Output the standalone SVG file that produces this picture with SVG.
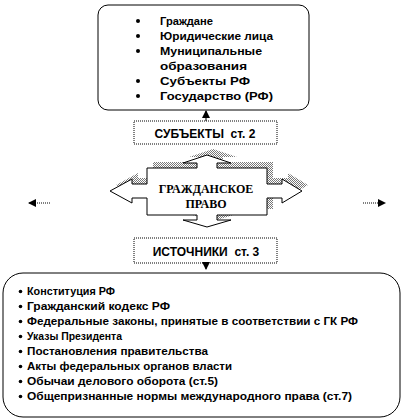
<svg xmlns="http://www.w3.org/2000/svg" width="402" height="420" viewBox="0 0 402 420">
<style>
.box{fill:#fff;stroke:#000;stroke-width:1}
.dbox{fill:#fff;stroke:#000;stroke-width:1;stroke-dasharray:1 1}
.t{font-family:"Liberation Sans",Arial,sans-serif;font-weight:bold;font-size:10.5px;fill:#000}
.tb{font-family:"Liberation Sans",Arial,sans-serif;font-weight:bold;font-size:10.5px;fill:#000}
.lbl{font-family:"Liberation Sans",Arial,sans-serif;font-weight:bold;font-size:12px;fill:#000}
.ser{font-family:"Liberation Serif","Times New Roman",serif;font-weight:bold;font-size:12px;fill:#000}
.ln{stroke:#000;stroke-width:1;fill:none}
.dl{stroke:#000;stroke-width:1;fill:none;stroke-dasharray:1 1}
</style>
<defs>
<pattern id="chk" width="2" height="2" patternUnits="userSpaceOnUse">
<rect width="2" height="2" fill="#fff"/>
<rect width="1" height="1" fill="#777"/>
<rect x="1" y="1" width="1" height="1" fill="#777"/>
</pattern>
<marker id="ah" markerWidth="8" markerHeight="8" refX="7" refY="4" orient="auto" markerUnits="userSpaceOnUse">
<path d="M0,0 L8,4 L0,8 z" fill="#000"/>
</marker>
</defs>

<g id="subjects-list">
<rect class="box" x="98" y="5" width="211" height="105" rx="10" ry="10"/>
<g fill="#000">
<circle cx="138" cy="21" r="2"/>
<circle cx="138" cy="36" r="2"/>
<circle cx="138" cy="51" r="2"/>
<circle cx="138" cy="81" r="2"/>
<circle cx="138" cy="96" r="2"/>
</g>
<text class="t" x="160" y="25" textLength="53" lengthAdjust="spacingAndGlyphs">Граждане</text>
<text class="t" x="160" y="40" textLength="113" lengthAdjust="spacingAndGlyphs">Юридические лица</text>
<text class="t" x="160" y="55" textLength="102" lengthAdjust="spacingAndGlyphs">Муниципальные</text>
<text class="t" x="160" y="70" textLength="87" lengthAdjust="spacingAndGlyphs">образования</text>
<text class="t" x="160" y="85" textLength="90" lengthAdjust="spacingAndGlyphs">Субъекты РФ</text>
<text class="t" x="160" y="100" textLength="113" lengthAdjust="spacingAndGlyphs">Государство (РФ)</text>
</g>

<g id="subjects-label">
<rect class="dbox" x="134" y="121" width="143" height="23"/>
<text class="lbl" x="205" y="138" text-anchor="middle" xml:space="preserve">СУБЪЕКТЫ  ст. 2</text>
</g>

<g id="civil-law">
<polygon fill="url(#chk)" transform="translate(6,-6)" points="207,155 231,163 217,163 217,168 267,168 267,184 282,184 282,179 302,191 282,203 282,198 267,198 267,215 217,215 217,220 231,220 207,227 183,220 197,220 197,215 147,215 147,198 132,198 132,203 110,191 132,179 132,184 147,184 147,168 197,168 197,163 183,163"/>
<polygon fill="#fff" stroke="#000" stroke-width="1" points="207,155 231,163 217,163 217,168 267,168 267,184 282,184 282,179 302,191 282,203 282,198 267,198 267,215 217,215 217,220 231,220 207,227 183,220 197,220 197,215 147,215 147,198 132,198 132,203 110,191 132,179 132,184 147,184 147,168 197,168 197,163 183,163"/>
<text class="ser" x="206" y="193" text-anchor="middle">ГРАЖДАНСКОЕ</text>
<text class="ser" x="206" y="208" text-anchor="middle">ПРАВО</text>
</g>

<g id="sources-label">
<rect class="dbox" x="134" y="238" width="143" height="25"/>
<text class="lbl" x="206" y="256" text-anchor="middle" xml:space="preserve">ИСТОЧНИКИ  ст. 3</text>
</g>

<g id="sources-list">
<rect class="box" x="3" y="273" width="397" height="144" rx="20" ry="20"/>
<g fill="#000">
<circle cx="20.5" cy="291.5" r="1.8"/>
<circle cx="20.5" cy="306.5" r="1.8"/>
<circle cx="20.5" cy="321.5" r="1.8"/>
<circle cx="20.5" cy="336.5" r="1.8"/>
<circle cx="20.5" cy="351.5" r="1.8"/>
<circle cx="20.5" cy="366.5" r="1.8"/>
<circle cx="20.5" cy="381.5" r="1.8"/>
<circle cx="20.5" cy="396.5" r="1.8"/>
</g>
<text class="tb" x="27" y="295" textLength="88" lengthAdjust="spacingAndGlyphs">Конституция РФ</text>
<text class="tb" x="27" y="310" textLength="143" lengthAdjust="spacingAndGlyphs">Гражданский кодекс РФ</text>
<text class="tb" x="27" y="325" textLength="331" lengthAdjust="spacingAndGlyphs">Федеральные законы, принятые в соответствии с ГК РФ</text>
<text class="tb" x="27" y="340" textLength="95" lengthAdjust="spacingAndGlyphs">Указы Президента</text>
<text class="tb" x="27" y="355" textLength="181" lengthAdjust="spacingAndGlyphs">Постановления правительства</text>
<text class="tb" x="27" y="370" textLength="205" lengthAdjust="spacingAndGlyphs">Акты федеральных органов власти</text>
<text class="tb" x="27" y="385" textLength="191" lengthAdjust="spacingAndGlyphs">Обычаи делового оборота (ст.5)</text>
<text class="tb" x="27" y="400" textLength="325" lengthAdjust="spacingAndGlyphs">Общепризнанные нормы международного права (ст.7)</text>
</g>

<g id="connectors">
<line class="ln" x1="206" y1="121" x2="206" y2="111" marker-end="url(#ah)"/>
<line class="ln" x1="206" y1="263" x2="206" y2="269" marker-end="url(#ah)"/>
<line class="dl" x1="50" y1="203" x2="29" y2="203" marker-end="url(#ah)"/>
<line class="dl" x1="363" y1="203" x2="385" y2="203" marker-end="url(#ah)"/>
</g>
</svg>
